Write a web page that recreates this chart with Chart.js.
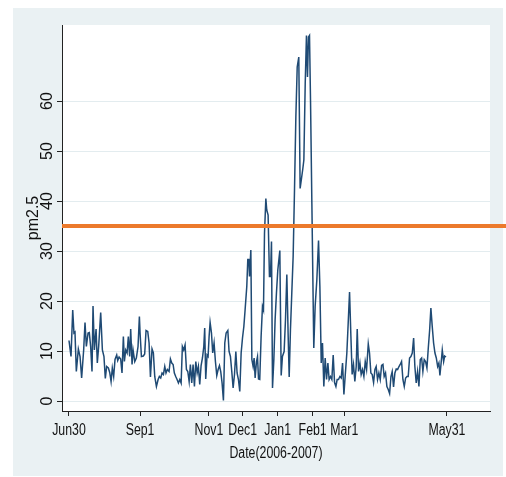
<!DOCTYPE html>
<html>
<head>
<meta charset="utf-8">
<script src="https://cdn.jsdelivr.net/npm/chart.js@4.4.1/dist/chart.umd.min.js"></script>
<style>
  html, body { margin: 0; padding: 0; background: #fff; }
  #wrap { width: 506px; height: 477px; }
</style>
</head>
<body>
<div id="wrap"><canvas id="pmChart" width="506" height="477"></canvas></div>
<script>
// days counted from Jun30 2006
const days = [
  0, 1.8, 3.3, 4.4, 5.3, 6.5, 8.3, 9.8, 11.2, 13.0, 14.2, 15.4, 16.9, 18.0, 19.2, 20.4, 21.3, 22.5, 24.0, 25.1,
  26.3, 28.1, 29.6, 31.0, 32.2, 33.4, 34.9, 36.1, 37.3, 38.4, 39.6, 40.8, 42.3, 43.2, 44.4, 45.8, 47.0, 48.2, 49.1, 50.3,
  51.5, 52.6, 53.8, 54.7, 55.9, 56.8, 58.3, 59.7, 61.2, 62.4, 63.0,
  64.2, 65.9, 67.1, 68.3, 69.8, 71.0, 72.2, 73.6, 74.8, 76.0, 77.5, 79.0, 80.1, 81.3, 82.5, 83.7, 84.9, 86.0, 87.2, 88.7,
  89.9, 91.1, 92.3, 93.4, 94.6, 95.8, 97.0, 98.2, 99.4, 100.5, 101.7, 102.9, 104.1, 105.3, 106.5, 107.6, 108.8, 110.0, 111.2, 112.4,
  113.6, 114.7, 115.9, 117.1, 118.3, 119.5, 120.3, 121.2, 122.4, 123.3, 124.2, 125.1,
  126.3, 127.4, 128.6, 129.8, 131.0, 132.2, 133.4, 134.5, 135.7, 136.9, 138.1, 139.3, 140.8, 141.9, 143.1, 144.3, 145.5, 146.7, 147.9, 149.0,
  150.2, 151.4, 152.6, 153.8, 155.0,
  156.1, 157.6, 158.5, 159.4, 160.0, 161.2, 162.1, 163.2, 164.1, 165.0, 166.2, 167.1, 168.0, 169.1, 170.3, 171.5, 172.4, 173.3, 174.5, 175.3,
  176.5, 177.1, 177.7, 178.6, 179.5, 180.4, 181.6, 182.7, 183.9, 185.1, 186.9,
  188.1, 189.2, 190.7, 191.9, 193.1, 194.3, 195.2, 196.3, 197.5, 198.7, 199.9, 201.1, 202.3, 203.7, 204.9, 206.1, 207.3, 208.2, 209.4, 210.5,
  211.4, 212.3, 213.2, 214.1, 215.3, 217.0, 218.2, 219.7, 221.2, 222.4, 223.6, 224.7, 225.9, 227.1, 228.3, 229.5, 230.6, 231.8, 233.0, 234.2,
  235.4, 236.6, 237.7, 238.9, 240.1, 241.3, 242.5, 243.7, 244.8, 246.3, 247.5, 248.7, 249.9, 251.0, 252.2, 253.4, 254.6, 255.5, 256.7, 257.9,
  259.0, 260.2, 261.4, 262.6, 263.8, 265.3, 266.4, 267.6, 268.8, 270.0, 271.2, 272.3, 273.5, 274.7, 275.9, 277.1, 278.3, 279.4, 280.6, 281.8,
  283.0, 284.2, 285.4, 286.5, 287.7, 288.9, 290.1, 291.3, 292.5, 293.6, 294.8, 296.0, 297.2, 298.4, 299.6, 300.7, 301.9, 303.1, 304.3, 305.5,
  306.6, 307.8, 309.0, 310.2, 311.4, 312.6, 313.7, 314.9, 316.1, 317.3, 318.5, 319.7, 320.8, 322.0, 323.2, 324.4, 325.6, 326.8, 327.9, 328.8,
  330.0, 330.9, 332.1, 333.0, 334.2, 335.0
];
const pm25 = [
  12.1, 8.9, 18.2, 13.6, 13.8, 5.9, 10.4, 8.9, 4.6, 10.2, 15.7, 10.9, 13.6, 13.7, 10.9, 5.9, 19.0, 10.2, 14.4, 7.6,
  10.9, 17.7, 10.2, 8.9, 4.5, 6.9, 6.6, 5.7, 3.9, 6.6, 4.9, 8.3, 9.2, 8.1, 8.8, 8.4, 5.6, 12.9, 7.9, 10.2,
  9.6, 12.9, 8.9, 14.4, 7.3, 10.2, 7.9, 8.6, 10.9, 16.9, 13.6,
  8.9, 9.0, 9.4, 14.1, 13.9, 11.6, 4.8, 10.4, 9.6, 4.9, 2.9, 4.3, 4.9, 4.6, 5.6, 5.3, 6.9, 5.6, 6.3, 5.9,
  8.4, 7.6, 7.3, 5.6, 4.9, 4.3, 3.6, 4.3, 3.6, 10.9, 10.2, 11.2, 6.3, 5.9, 3.9, 7.3, 3.6, 7.3, 2.9, 7.9,
  5.6, 6.9, 3.3, 7.1, 8.6, 10.9, 14.6, 4.4, 9.2, 8.9, 12.9, 15.7,
  13.6, 9.6, 11.6, 7.9, 5.1, 6.3, 7.1, 5.9, 3.6, 0.1, 11.6, 13.6, 14.1, 9.9, 8.9, 5.9, 2.6, 5.3, 9.9, 5.6,
  4.3, 1.9, 9.6, 12.6, 14.9,
  18.2, 22.9, 28.3, 28.3, 24.9, 30.2, 8.3, 6.9, 8.6, 4.6, 7.9, 8.9, 4.4, 4.3, 12.9, 18.9, 18.2, 33.5, 40.5, 38.2,
  37.2, 37.2, 24.9, 24.9, 31.9, 2.6, 8.3, 16.2, 21.6, 26.2, 30.1,
  5.1, 8.9, 9.9, 16.2, 25.3, 12.9, 4.8, 14.2, 21.6, 28.9, 42.2, 56.8, 66.8, 68.8, 42.5, 44.5, 46.5, 48.2, 63.5, 73.1,
  64.8, 72.8, 73.1, 60.1, 39.5, 10.6, 18.9, 24.2, 32.1, 22.9, 7.6, 11.6, 2.9, 8.6, 4.3, 7.6, 4.3, 4.9, 4.3, 9.2,
  3.7, 2.9, 4.3, 4.3, 4.9, 4.6, 7.6, 1.3, 4.9, 9.6, 15.6, 21.8, 12.9, 5.3, 7.3, 3.9, 6.9, 14.4, 5.9, 7.6,
  5.3, 6.3, 4.9, 7.9, 6.3, 11.4, 9.6, 5.6, 5.3, 3.7, 6.3, 6.9, 4.3, 5.6, 4.3, 7.1, 7.3, 4.9, 5.6, 2.9,
  2.3, 1.5, 4.9, 5.9, 2.8, 5.6, 6.4, 6.3, 6.9, 7.3, 7.9, 4.3, 2.9, 4.6, 4.9, 4.9, 8.6, 8.9, 9.6, 12.6,
  6.9, 3.6, 5.9, 2.9, 8.3, 8.6, 5.9, 8.3, 7.9, 6.6, 10.6, 14.2, 18.6, 14.9, 11.6, 9.6, 8.6, 6.9, 7.6, 5.1,
  7.9, 10.2, 7.9, 9.0, 8.8, 8.8
];
const tickDays = [0, 63, 124, 154, 185, 216, 244, 335];
const tickLabels = ["Jun30", "Sep1", "Nov1", "Dec1", "Jan1", "Feb1", "Mar1", "May31"];
const yTicks = [0, 10, 20, 30, 40, 50, 60];
const limit = 35;
const xTitle = "Date(2006-2007)";

const sans = "'Liberation Sans', Arial, sans-serif";

// light graph region with white plot region on top
const background = {
  id: "background",
  beforeDraw(chart) {
    const { ctx, chartArea: a } = chart;
    ctx.save();
    ctx.fillStyle = "#eaf1f3";
    ctx.fillRect(13, 8, 490, 468);
    ctx.fillStyle = "#ffffff";
    ctx.fillRect(a.left, a.top, a.right - a.left, a.bottom - a.top);
    ctx.restore();
  }
};

// x labels and title come out squeezed in the original, so draw them narrowed
const squeezedX = {
  id: "squeezedX",
  afterDraw(chart) {
    const { ctx, scales: { x } } = chart;
    const k = 0.77;
    ctx.save();
    ctx.fillStyle = "#111";
    ctx.font = "16px " + sans;
    ctx.textAlign = "center";
    ctx.textBaseline = "alphabetic";
    ctx.scale(k, 1);
    tickDays.forEach((d, i) => {
      ctx.fillText(tickLabels[i], x.getPixelForValue(d) / k, 435);
    });
    ctx.fillText(xTitle, ((x.left + x.right) / 2) / k, 458);
    ctx.restore();
  }
};

new Chart(document.getElementById("pmChart"), {
  type: "line",
  data: {
    datasets: [
      {
        // limit line, runs past the plot edge like the original
        data: [{ x: -6.2, y: limit }, { x: 388, y: limit }],
        borderColor: "#ec7a2c",
        borderWidth: 4,
        pointRadius: 0,
        clip: false
      },
      {
        data: days.map((d, i) => ({ x: d, y: pm25[i] })),
        borderColor: "#1f4a74",
        borderWidth: 1.5,
        pointRadius: 0,
        tension: 0
      }
    ]
  },
  options: {
    responsive: false,
    animation: false,
    layout: { padding: { top: 25, right: 16, left: 0, bottom: 0 } },
    plugins: { legend: { display: false }, tooltip: { enabled: false } },
    scales: {
      x: {
        type: "linear",
        min: -6.2,
        max: 373.2,
        afterBuildTicks: s => { s.ticks = tickDays.map(v => ({ value: v })); },
        afterFit: s => { s.height = 66; },
        grid: { drawOnChartArea: false, tickLength: 5, tickColor: "#222" },
        border: { color: "#222", width: 1 },
        ticks: { display: false }
      },
      y: {
        min: -2,
        max: 75.2,
        afterBuildTicks: s => { s.ticks = yTicks.map(v => ({ value: v })); },
        afterFit: s => { s.width = 62; },
        grid: { color: "#e3ecef", lineWidth: 1, tickLength: 5, tickColor: "#222" },
        border: { color: "#222", width: 1 },
        ticks: {
          minRotation: 90,
          maxRotation: 90,
          crossAlign: "center",
          padding: 1,
          color: "#111",
          font: { family: sans, size: 16 }
        },
        title: {
          display: true,
          text: "pm2.5",
          color: "#111",
          padding: { top: 24 },
          font: { family: sans, size: 16 }
        }
      }
    }
  },
  plugins: [background, squeezedX]
});
</script>
</body>
</html>
